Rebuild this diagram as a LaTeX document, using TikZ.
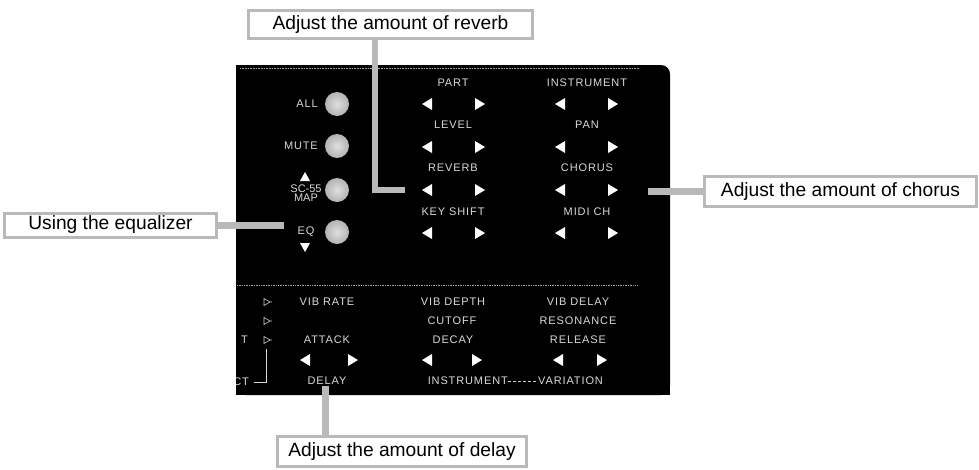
\documentclass[tikz,border=0pt]{standalone}
\usepackage{fontspec}
\setmainfont{Liberation Sans}
\newfontfamily\panelfont[LetterSpace=8]{Liberation Sans}
\newcommand\pnlL[2]{\fill[white] (#1+5,#2-6) -- (#1+5,#2+6) -- (#1-5,#2) -- cycle;}
\newcommand\pnlR[2]{\fill[white] (#1-5,#2-6) -- (#1-5,#2+6) -- (#1+5,#2) -- cycle;}
\newcommand\pnlP[2]{\draw[white!80!black, line width=0.6pt] (#1-3,#2-3.5) -- (#1-3,#2+3.5) -- (#1+3,#2) -- cycle (#1+3,#2) -- (#1+5,#2);}
\tikzset{
  plab/.style={text=white!85!black, font=\panelfont\fontsize{11}{10}\selectfont, inner sep=0pt},
  btn/.style={circle, minimum size=24pt, inner sep=0pt, shading=radial, inner color=gray!25, outer color=gray!60},
  callout/.style={draw=gray!55, line width=3pt, fill=white, inner sep=0pt, font=\fontsize{19.2}{19}\selectfont},
  conn/.style={draw=gray!55, line width=7pt}
}
\begin{document}
\begin{tikzpicture}[x=1pt,y=-1pt]
\useasboundingbox (0,0) rectangle (979,469);
% panel
\fill[black, rounded corners=9pt] (236,65) rectangle (670,395);
\fill[black] (236,65) rectangle (650,90);
\fill[black] (236,370) rectangle (670,395);
\draw[gray!60, line width=0.6pt, densely dotted] (240,68) -- (640,68);
\draw[gray!70, line width=0.7pt, densely dotted] (237,285) -- (637,285);
\begin{scope}
\clip (236,65) rectangle (670,395);
% buttons
\node[btn] (ball) at (337,104) {};
\node[btn] (bmute) at (337,146) {};
\node[btn] (bmap) at (337,190) {};
\node[btn] (beq) at (337,232) {};
\node[plab, anchor=east] (lall) at (318,104) {ALL};
\node[plab, anchor=east] (lmute) at (318,146) {MUTE};
\node[plab, align=center, font=\fontsize{11}{9.5}\selectfont] (lmap) at (306,193) {SC-55\\MAP};
\node[plab] (leq) at (306,232) {EQ};
\fill[white] (300,181) -- (310,181) -- (305,172) -- cycle;
\fill[white] (300,243) -- (310,243) -- (305,252) -- cycle;
% top right grid
\node[plab] (part) at (453,83) {PART};
\node[plab] (instr) at (587,83) {INSTRUMENT};
\node[plab] (level) at (453,125) {LEVEL};
\node[plab] (pan) at (587,125) {PAN};
\node[plab] (reverb) at (453,168) {REVERB};
\node[plab] (chorus) at (587,168) {CHORUS};
\node[plab] (keyshift) at (453,212) {KEY SHIFT};
\node[plab] (midich) at (587,212) {MIDI CH};
\foreach \yy in {104,147,190,233}{
  \pnlL{427}{\yy} \pnlR{480}{\yy}
  \pnlL{560}{\yy} \pnlR{613}{\yy}
}
% bottom grid
\node[plab] (vibrate) at (327,302) {VIB RATE};
\node[plab] (vibdepth) at (453,302) {VIB DEPTH};
\node[plab] (vibdelay) at (578,302) {VIB DELAY};
\node[plab] (cutoff) at (452,321) {CUTOFF};
\node[plab] (resonance) at (578,321) {RESONANCE};
\node[plab] (attack) at (327,340) {ATTACK};
\node[plab] (decay) at (453,340) {DECAY};
\node[plab] (release) at (578,340) {RELEASE};
\pnlL{305}{360} \pnlR{353}{360}
\pnlL{427}{360} \pnlR{477}{360}
\pnlL{558}{360} \pnlR{602}{360}
\node[plab] (delay) at (327,381) {DELAY};
\node[plab, anchor=east] (instr2) at (508,381) {INSTRUMENT};
\node[plab, anchor=west] (variation) at (538,381) {VARIATION};
\draw[white!80!black, line width=0.5pt, densely dashed] (instr2.east) -- (variation.west);
% left strip
\pnlP{267}{302} \pnlP{267}{321} \pnlP{267}{340}
\node[plab, anchor=east] (tt) at (248,340) {T};
\node[plab, anchor=east] (ct) at (249,382) {CT};
\coordinate (vtop) at (266,349);
\coordinate (vbot) at (266,382);
\coordinate (hend) at (254,382);
\draw[white!85!black, line width=0.8pt] (vtop) -- (vbot) -- (hend);
\end{scope}
% callouts
\node[callout, minimum width=284pt, minimum height=28pt] (cb1) at (390.5,24.5) {Adjust the amount of reverb};
\node[callout, minimum width=272pt, minimum height=30pt] (cb2) at (840.5,191.5) {Adjust the amount of chorus};
\node[callout, minimum width=212pt, minimum height=24pt] (cb3) at (110.5,225) {Using the equalizer};
\node[callout, minimum width=249pt, minimum height=30pt] (cb4) at (402,451.5) {Adjust the amount of delay};
% connectors
\coordinate (rvturn) at (375,190);
\coordinate (rvend) at (405,190);
\draw[conn, line width=6pt] (rvturn |- cb1.south) -- (rvturn) -- (rvend);
\coordinate (chend) at (648,191.5);
\draw[conn] (cb2.west) -- (chend);
\coordinate (eqend) at (284,225);
\draw[conn] (cb3.east) -- (eqend);
\coordinate (dlend) at (325,386);
\draw[conn] (dlend) -- (dlend |- cb4.north);
\end{tikzpicture}
\end{document}
